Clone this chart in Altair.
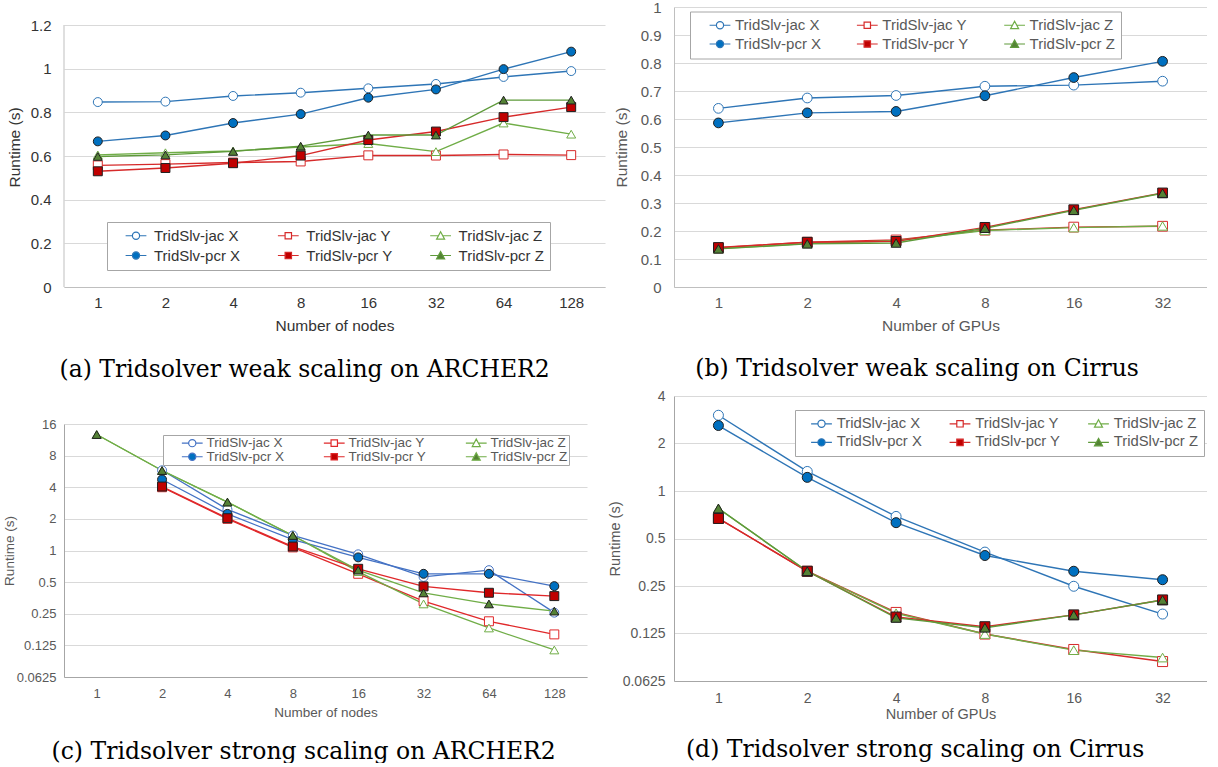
import altair as alt
import pandas as pd

series = ["TridSlv-jac X", "TridSlv-jac Y", "TridSlv-jac Z",
          "TridSlv-pcr X", "TridSlv-pcr Y", "TridSlv-pcr Z"]

nodes = ["1", "2", "4", "8", "16", "32", "64", "128"]
gpus = ["1", "2", "4", "8", "16", "32"]

# (a) weak scaling ARCHER2
a_jac_x = [0.847, 0.849, 0.875, 0.890, 0.910, 0.930, 0.962, 0.989]
a_jac_y = [0.557, 0.563, 0.570, 0.575, 0.603, 0.602, 0.607, 0.604]
a_jac_z = [0.605, 0.615, 0.623, 0.641, 0.657, 0.620, 0.751, 0.700]
a_pcr_x = [0.667, 0.694, 0.751, 0.792, 0.867, 0.905, 0.998, 1.078]
a_pcr_y = [0.530, 0.545, 0.567, 0.602, 0.673, 0.712, 0.778, 0.824]
a_pcr_z = [0.598, 0.605, 0.621, 0.645, 0.696, 0.696, 0.856, 0.856]

# (b) weak scaling Cirrus
b_jac_x = [0.638, 0.675, 0.684, 0.717, 0.721, 0.735]
b_jac_y = [0.140, 0.160, 0.168, 0.203, 0.214, 0.217]
b_jac_z = [0.137, 0.155, 0.165, 0.202, 0.212, 0.218]
b_pcr_x = [0.586, 0.622, 0.627, 0.683, 0.748, 0.806]
b_pcr_y = [0.141, 0.160, 0.163, 0.213, 0.276, 0.336]
b_pcr_z = [0.136, 0.154, 0.157, 0.210, 0.274, 0.335]

# (c) strong scaling ARCHER2
c_jac_x = [None, 5.8, 2.46, 1.39, 0.92, 0.56, 0.65, 0.256]
c_jac_y = [None, 4.0, 2.0, 1.07, 0.60, 0.33, 0.212, 0.159]
c_jac_z = [12.7, 5.77, 2.89, 1.39, 0.63, 0.31, 0.183, 0.113]
c_pcr_x = [None, 4.74, 2.23, 1.27, 0.86, 0.60, 0.60, 0.458]
c_pcr_y = [None, 4.06, 2.03, 1.09, 0.67, 0.455, 0.396, 0.368]
c_pcr_z = [12.7, 5.77, 2.89, 1.39, 0.65, 0.395, 0.31, 0.265]

# (d) strong scaling Cirrus
d_jac_x = [3.02, 1.33, 0.69, 0.41, 0.249, 0.166]
d_jac_y = [0.67, 0.31, 0.17, 0.124, 0.099, 0.083]
d_jac_z = [0.775, 0.31, 0.168, 0.124, 0.098, 0.088]
d_pcr_x = [2.60, 1.22, 0.63, 0.39, 0.31, 0.274]
d_pcr_y = [0.67, 0.31, 0.159, 0.138, 0.164, 0.204]
d_pcr_z = [0.775, 0.31, 0.157, 0.136, 0.164, 0.204]

lin_a_ticks = [0, 0.2, 0.4, 0.6, 0.8, 1.0, 1.2]
lin_b_ticks = [0, 0.1, 0.2, 0.3, 0.4, 0.5, 0.6, 0.7, 0.8, 0.9, 1.0]
log_c_ticks = [0.0625, 0.125, 0.25, 0.5, 1, 2, 4, 8, 16]
log_d_ticks = [0.0625, 0.125, 0.25, 0.5, 1, 2, 4]

captions = ["(a) Tridsolver weak scaling on ARCHER2",
            "(b) Tridsolver weak scaling on Cirrus",
            "(c) Tridsolver strong scaling on ARCHER2",
            "(d) Tridsolver strong scaling on Cirrus"]

SANS = "Liberation Sans"
SERIF = "DejaVu Serif"
CAP_FS = 23.5

LINE_COLORS = ["#2E75B6", "#D62A2A", "#70AD47", "#2E75B6", "#D62A2A", "#5E9A3A"]
LINE_COLORS_C = ["#4472C4", "#E0282A", "#70AD47", "#4472C4", "#E0282A", "#70AD47"]
FILLS = ["white", "white", "white", "#0070C0", "#C00000", "#548235"]
SHAPES = ["circle", "square", "triangle-up"] * 2
LEG_PATHS = [
    "M-2.6,0H-0.9M0.9,0H2.6M0.9,0A0.9,0.9 0 1,1 -0.9,0A0.9,0.9 0 1,1 0.9,0Z",
    "M-2.6,0H-0.8M0.8,0H2.6M-0.8,-0.8H0.8V0.8H-0.8Z",
    "M-2.6,0H-0.5M0.5,0H2.6M0,-1L1,0.85H-1Z",
] * 2


def caption(text, orient, offset, dx=0):
    return alt.TitleParams(text, orient=orient, anchor="middle", frame="bounds",
                           font=SERIF, fontSize=CAP_FS, fontWeight="normal",
                           color="black", offset=offset, dx=dx)


def panel(cats, vals, cfg):
    rows = []
    for s, arr in zip(series, vals):
        for c, v in zip(cats, arr):
            if v is not None:
                rows.append({"cat": c, "val": v, "series": s})
    df = pd.DataFrame(rows)
    tc = cfg["text"]
    lc = cfg["lines"]
    mstroke = [lc[0], lc[1], lc[2], "#1F1F1F", "#1F1F1F", "#1F1F1F"]
    x = alt.X("cat:N", sort=cats, scale=alt.Scale(type="point", padding=0.5),
              axis=alt.Axis(title=cfg["xtitle"], labelAngle=0, ticks=False, grid=False,
                            domainColor=cfg["axis"], domainWidth=1,
                            labelFont=SANS, labelFontSize=cfg["fs"], labelColor=tc,
                            labelPadding=cfg["xlp"],
                            titleFont=SANS, titleFontSize=cfg["fst"], titleColor=tc,
                            titleFontWeight="normal", titlePadding=cfg["xtp"]))
    if cfg["log"]:
        ys = alt.Scale(type="log", base=2, domain=cfg["domain"], nice=False)
    else:
        ys = alt.Scale(domain=cfg["domain"], nice=False, zero=True)
    y = alt.Y("val:Q", scale=ys,
              axis=alt.Axis(values=cfg["ticks"], format="~g", title="Runtime (s)",
                            ticks=False, grid=True, gridColor="#D9D9D9", gridWidth=1,
                            domain=cfg.get("ydomain", True),
                            domainColor=cfg["axis"], labelOverlap=False,
                            labelFont=SANS, labelFontSize=cfg["fs"], labelColor=tc,
                            labelPadding=cfg["ylp"],
                            titleFont=SANS, titleFontSize=cfg["fst"], titleColor=tc,
                            titleFontWeight="normal", titlePadding=cfg["ytp"]))
    base = alt.Chart(df)
    layers = []
    if not cfg.get("ydomain", True):
        tick_lo, tick_hi = min(cfg["ticks"]), max(cfg["ticks"])
        axis_df = pd.DataFrame({"lo": [tick_lo], "hi": [tick_hi]})
        layers.append(alt.Chart(axis_df).mark_rule(color=cfg["axis"], strokeWidth=1).encode(
            x=alt.value(0), y=alt.Y("lo:Q", scale=ys), y2="hi:Q"))
    lines = base.mark_line(strokeWidth=cfg["lw"]).encode(
        x=x, y=y,
        color=alt.Color("series:N", scale=alt.Scale(domain=series, range=lc), legend=None),
    )
    pts = base.mark_point(filled=True, opacity=1, size=cfg["ms"], strokeWidth=1).encode(
        x=x, y=y,
        shape=alt.Shape("series:N", scale=alt.Scale(domain=series, range=SHAPES), legend=None),
        fill=alt.Fill("series:N", scale=alt.Scale(domain=series, range=FILLS), legend=None),
        stroke=alt.Stroke("series:N", scale=alt.Scale(domain=series, range=mstroke), legend=None),
    )
    leg = alt.Legend(title=None,
                     orient="none", legendX=cfg["lx"], legendY=cfg["ly"],
                     direction="horizontal", columns=3, columnPadding=cfg["lcp"],
                     rowPadding=cfg["lrp"], labelFont=SANS, labelFontSize=cfg["lfs"],
                     labelColor=tc, labelOffset=cfg["lo"], symbolOffset=cfg["so"],
                     symbolSize=64, symbolStrokeWidth=1.2, strokeColor="#A6A6A6",
                     fillColor="white", padding=cfg["lpad"], labelLimit=400, cornerRadius=0)
    legl = base.transform_filter("false").mark_point(filled=True, opacity=1, size=64,
                                                      strokeWidth=1.2).encode(
        shape=alt.Shape("series:N", scale=alt.Scale(domain=series, range=LEG_PATHS), legend=leg),
        fill=alt.Fill("series:N", scale=alt.Scale(domain=series, range=FILLS), legend=leg),
        stroke=alt.Stroke("series:N", scale=alt.Scale(domain=series, range=lc), legend=leg),
    )
    layers += [lines, pts, legl]
    props = dict(width=cfg["w"], height=cfg["h"])
    if cfg.get("title") is not None:
        props["title"] = cfg["title"]
    return alt.layer(*layers).resolve_scale(
        shape="independent", fill="independent", stroke="independent"
    ).properties(**props)


pa = panel(nodes, [a_jac_x, a_jac_y, a_jac_z, a_pcr_x, a_pcr_y, a_pcr_z], dict(
    w=541, h=280, log=False, domain=[0, 1.2 * 280 / 262], ticks=lin_a_ticks, ydomain=False,
    xtitle="Number of nodes",
    text="#333333", axis="#BFBFBF", fs=15, fst=15.5, xlp=8, xtp=8, ylp=13, ytp=7.5,
    lines=LINE_COLORS, ms=80, lw=1.4, lx=43, ly=215, lcp=24.3, lrp=4, lfs=15, lo=10.5,
    so=15.5, lpad=6, title=None))

pb = panel(gpus, [b_jac_x, b_jac_y, b_jac_z, b_pcr_x, b_pcr_y, b_pcr_z], dict(
    w=533, h=280, log=False, domain=[0, 1], ticks=lin_b_ticks, xtitle="Number of GPUs",
    text="#595959", axis="#BFBFBF", fs=15, fst=15.5, xlp=8, xtp=8, ylp=13, ytp=11,
    lines=LINE_COLORS, ms=95, lw=1.4, lx=16, ly=4.5, lcp=21.3, lrp=3, lfs=15, lo=7.5,
    so=16.5, lpad=6, title=None))

pc = panel(nodes, [c_jac_x, c_jac_y, c_jac_z, c_pcr_x, c_pcr_y, c_pcr_z], dict(
    w=523, h=253, log=True, domain=[0.0625, 16], ticks=log_c_ticks, xtitle="Number of nodes",
    text="#595959", axis="#A6A6A6", fs=13, fst=13.5, xlp=10, xtp=5, ylp=8, ytp=0,
    lines=LINE_COLORS_C, ms=80, lw=1.3, lx=99, ly=11, lcp=21, lrp=-2, lfs=13.5, lo=7.5,
    so=21.5, lpad=1, title=caption(captions[0], "top", 37, dx=10)))

pd_ = panel(gpus, [d_jac_x, d_jac_y, d_jac_z, d_pcr_x, d_pcr_y, d_pcr_z], dict(
    w=533, h=285, log=True, domain=[0.0625, 4], ticks=log_d_ticks, xtitle="Number of GPUs",
    text="#595959", axis="#A6A6A6", fs=14, fst=14.5, xlp=10, xtp=2, ylp=9, ytp=0,
    lines=LINE_COLORS, ms=100, lw=1.4, lx=121, ly=14, lcp=17.5, lrp=3, lfs=14.8, lo=7.9,
    so=13.1, lpad=6, title=caption(captions[1], "top", 9, dx=10)))

IND = dict(color="independent", shape="independent", fill="independent", stroke="independent")

col1 = alt.vconcat(pa, pc, spacing=23, title=caption(captions[2], "bottom", 21)
                   ).resolve_scale(**IND).resolve_legend(**IND)
col2 = alt.vconcat(pb, pd_, spacing=22, title=caption(captions[3], "bottom", 17, dx=8)
                   ).resolve_scale(**IND).resolve_legend(**IND)

chart = alt.hconcat(col1, col2, spacing=2).resolve_scale(**IND).resolve_legend(**IND).properties(
    padding={"left": 2, "top": 0, "right": 0, "bottom": 0}
).configure(background="white").configure_view(stroke=None)

chart.save("out.html", embed_options={"renderer": "svg", "actions": False})
